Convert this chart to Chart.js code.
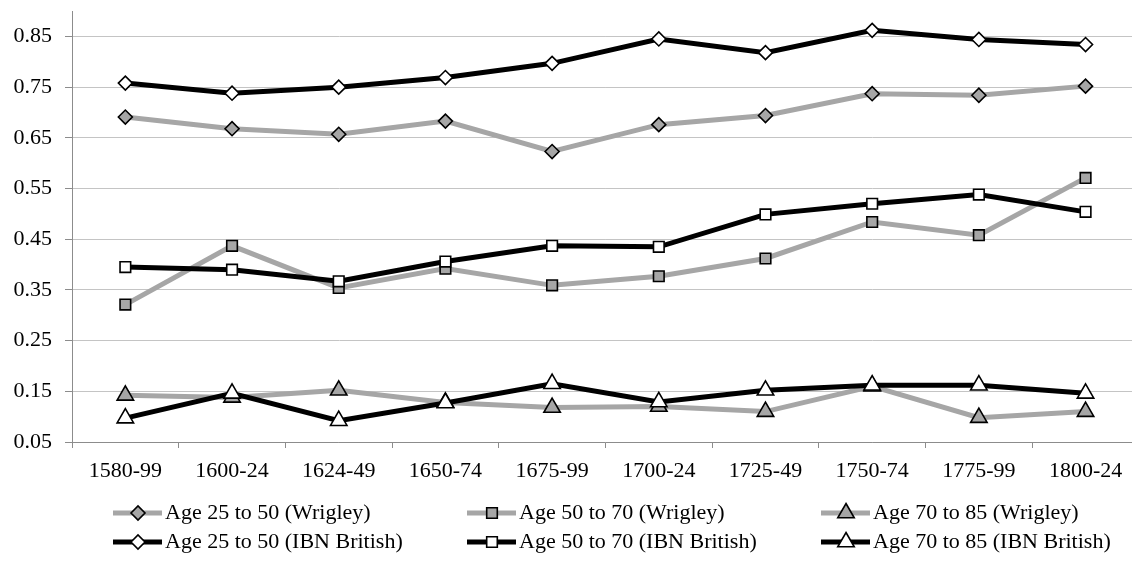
<!DOCTYPE html>
<html lang="en">
<head>
    <meta charset="UTF-8">
    <title>Survival ratios by period</title>
    <script src="https://cdn.jsdelivr.net/npm/chart.js"></script>
    <style>
        html, body {
            margin: 0;
            padding: 0;
            background: #ffffff;
            overflow: hidden;
        }
        #wrap {
            position: relative;
            width: 1150px;
            height: 565px;
        }
    </style>
</head>
<body>
    <div id="wrap">
        <canvas id="myChart"></canvas>
    </div>
    <script>
        const periods = ['1580-99', '1600-24', '1624-49', '1650-74', '1675-99', '1700-24', '1725-49', '1750-74', '1775-99', '1800-24'];

        const wrigley25 = [0.691, 0.668, 0.657, 0.683, 0.623, 0.676, 0.694, 0.737, 0.734, 0.752];
        const wrigley50 = [0.321, 0.437, 0.354, 0.392, 0.359, 0.377, 0.412, 0.484, 0.458, 0.571];
        const wrigley70 = [0.142, 0.138, 0.152, 0.128, 0.118, 0.120, 0.110, 0.160, 0.098, 0.110];
        const ibn25 = [0.758, 0.738, 0.750, 0.769, 0.797, 0.845, 0.818, 0.862, 0.844, 0.834];
        const ibn50 = [0.395, 0.390, 0.367, 0.406, 0.437, 0.435, 0.499, 0.520, 0.538, 0.504];
        const ibn70 = [0.097, 0.146, 0.092, 0.127, 0.165, 0.129, 0.152, 0.162, 0.162, 0.146];

        const yTicks = [0.05, 0.15, 0.25, 0.35, 0.45, 0.55, 0.65, 0.75, 0.85];

        const seriesNames = [
            'Age 25 to 50 (Wrigley)', 'Age 50 to 70 (Wrigley)', 'Age 70 to 85 (Wrigley)',
            'Age 25 to 50 (IBN British)', 'Age 50 to 70 (IBN British)', 'Age 70 to 85 (IBN British)'
        ];

        const GRAY = '#a6a6a6';
        const FONT = "'Times New Roman', 'Liberation Serif', serif";
        const AXIS = '#8c8c8c';

        function makeSet(label, data, lineColor, fill, style, radius, order) {
            return {
                label: label,
                data: data,
                borderColor: lineColor,
                borderWidth: 5,
                tension: 0,
                fill: false,
                pointStyle: style,
                pointRadius: radius,
                pointHoverRadius: radius,
                pointBackgroundColor: fill,
                pointBorderColor: '#000000',
                pointBorderWidth: 1.6,
                order: order
            };
        }

        const datasets = [
            makeSet(seriesNames[0], wrigley25, GRAY, GRAY, 'rectRot', 7, 6),
            makeSet(seriesNames[1], wrigley50, GRAY, GRAY, 'rect', 7.5, 5),
            makeSet(seriesNames[2], wrigley70, GRAY, GRAY, 'triangle', 9.5, 4),
            makeSet(seriesNames[3], ibn25, '#000000', '#ffffff', 'rectRot', 7, 3),
            makeSet(seriesNames[4], ibn50, '#000000', '#ffffff', 'rect', 7.5, 2),
            makeSet(seriesNames[5], ibn70, '#000000', '#ffffff', 'triangle', 9.5, 1)
        ];

        // legend drawn in columns like the spreadsheet legend
        const legendCols = [113, 467, 821];
        const legendRows = [513, 542];

        const columnLegend = {
            id: 'columnLegend',
            afterDraw(chart) {
                const ctx = chart.ctx;
                ctx.save();
                chart.data.datasets.forEach((ds, i) => {
                    const x = legendCols[i % 3];
                    const y = legendRows[Math.floor(i / 3)];
                    ctx.strokeStyle = ds.borderColor;
                    ctx.lineWidth = 5;
                    ctx.beginPath();
                    ctx.moveTo(x, y);
                    ctx.lineTo(x + 49, y);
                    ctx.stroke();

                    ctx.fillStyle = ds.pointBackgroundColor;
                    ctx.strokeStyle = ds.pointBorderColor;
                    ctx.lineWidth = ds.pointBorderWidth;
                    Chart.helpers.drawPoint(ctx, {
                        pointStyle: ds.pointStyle,
                        radius: ds.pointRadius,
                        borderWidth: ds.pointBorderWidth,
                        rotation: 0
                    }, x + 25, y);

                    ctx.fillStyle = '#000000';
                    ctx.font = '22px ' + FONT;
                    ctx.textAlign = 'left';
                    ctx.textBaseline = 'middle';
                    ctx.fillText(ds.label, x + 52, y);
                });
                ctx.restore();
            }
        };

        const ctx = document.getElementById('myChart').getContext('2d');
        const myChart = new Chart(ctx, {
            type: 'line',
            data: {
                labels: periods,
                datasets: datasets
            },
            options: {
                responsive: true,
                maintainAspectRatio: false,
                animation: false,
                layout: {
                    padding: { top: 8, left: 0, right: 10, bottom: 83 }
                },
                plugins: {
                    legend: { display: false },
                    tooltip: { enabled: false }
                },
                scales: {
                    x: {
                        offset: true,
                        grid: {
                            offset: true,
                            drawOnChartArea: false,
                            color: AXIS,
                            tickLength: 6
                        },
                        border: { color: AXIS, width: 1 },
                        ticks: {
                            color: '#000000',
                            font: { family: FONT, size: 22 },
                            padding: 10,
                            maxRotation: 0,
                            autoSkip: false
                        },
                        afterFit(scale) {
                            scale.height = 40;
                            scale.paddingLeft = 0;
                            scale.paddingRight = 0;
                        }
                    },
                    y: {
                        min: 0.05,
                        max: 0.9,
                        grid: {
                            color: '#c4c4c4',
                            tickColor: AXIS,
                            tickLength: 7
                        },
                        border: { color: AXIS, width: 1 },
                        ticks: {
                            color: '#000000',
                            font: { family: FONT, size: 22 },
                            padding: 13,
                            callback: value => value.toFixed(2)
                        },
                        afterBuildTicks(scale) {
                            scale.ticks = yTicks.map(v => ({ value: v }));
                        },
                        afterFit(scale) {
                            scale.width = 72;
                            scale.paddingTop = 0;
                            scale.paddingBottom = 0;
                        }
                    }
                }
            },
            plugins: [columnLegend]
        });
    </script>
</body>
</html>
